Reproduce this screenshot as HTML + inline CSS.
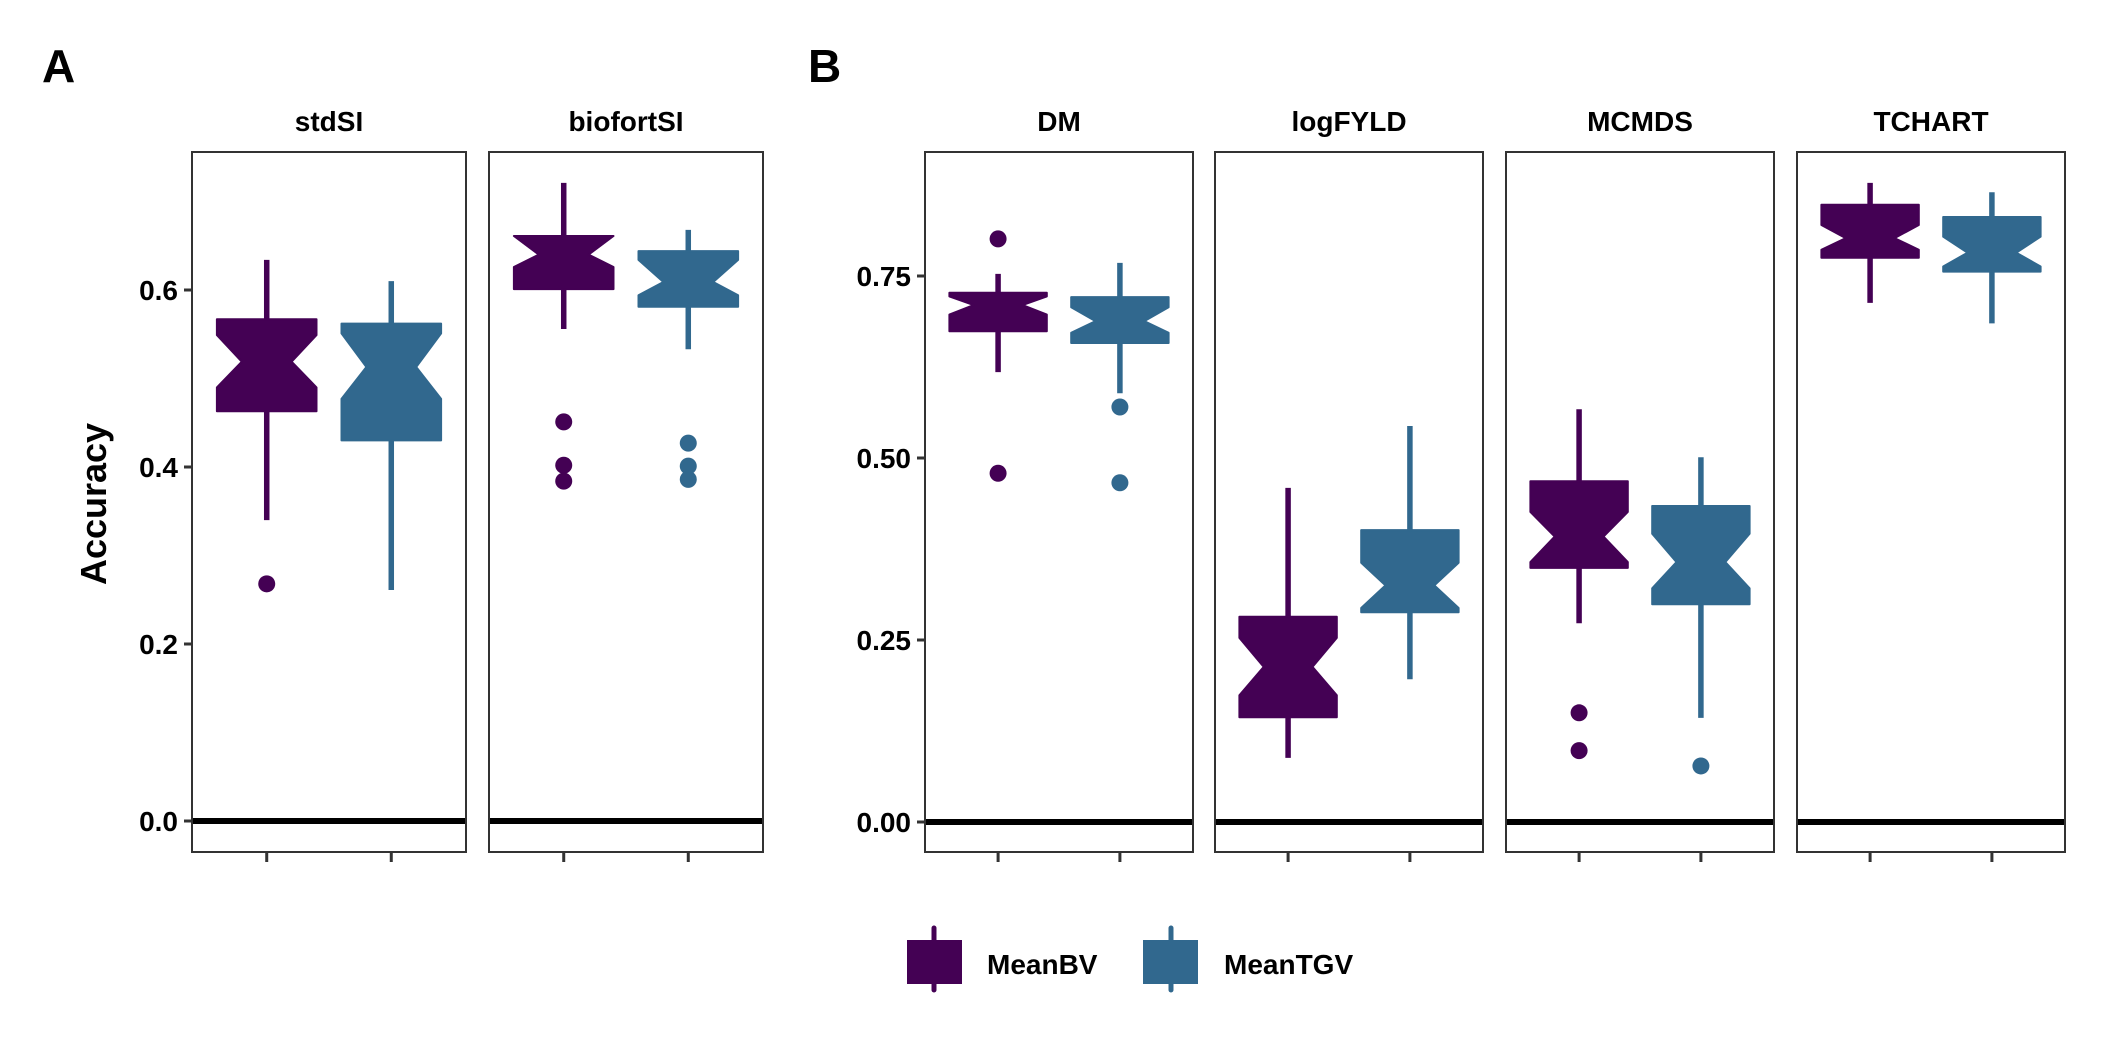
<!DOCTYPE html>
<html><head><meta charset="utf-8"><style>
html,body{margin:0;padding:0;background:#fff}
svg{display:block;font-family:"Liberation Sans",sans-serif;font-weight:bold}
</style></head><body>
<svg id="chart" width="2102" height="1051" viewBox="0 0 2102 1051">
<text x="42" y="82" font-size="46">A</text>
<text x="808" y="82" font-size="46">B</text>
<text transform="translate(106,504) rotate(-90)" text-anchor="middle" font-size="36">Accuracy</text>
<g id="panels"></g>
<g>
  <line x1="934" y1="928" x2="934" y2="990" stroke="#440154" stroke-width="5" stroke-linecap="round"/>
  <rect x="907" y="940" width="55" height="44" fill="#440154"/>
  <text x="987" y="974" font-size="28">MeanBV</text>
  <line x1="1171" y1="928" x2="1171" y2="990" stroke="#31688E" stroke-width="5" stroke-linecap="round"/>
  <rect x="1143" y="940" width="55" height="44" fill="#31688E"/>
  <text x="1224" y="974" font-size="28">MeanTGV</text>
</g>
</svg>
<script>
// facets
const facetNames = ["stdSI","biofortSI","DM","logFYLD","MCMDS","TCHART"];
const seriesNames = ["MeanBV","MeanTGV"];
// per facet: [BV, TGV]
const whiskerLow = [[0.34,0.261],[0.556,0.533],[0.618,0.589],[0.088,0.196],[0.273,0.143],[0.713,0.685]];
const q1 = [[0.463,0.430],[0.601,0.581],[0.674,0.658],[0.144,0.288],[0.349,0.299],[0.775,0.756]];
const notchLow = [[0.490,0.477],[0.626,0.594],[0.697,0.672],[0.174,0.294],[0.357,0.321],[0.786,0.763]];
const medians = [[0.519,0.513],[0.640,0.609],[0.710,0.688],[0.213,0.325],[0.392,0.357],[0.802,0.782]];
const notchHigh = [[0.549,0.551],[0.661,0.634],[0.722,0.707],[0.253,0.356],[0.426,0.396],[0.820,0.804]];
const q3 = [[0.567,0.562],[0.661,0.644],[0.727,0.721],[0.282,0.401],[0.468,0.434],[0.848,0.831]];
const whiskerHigh = [[0.634,0.610],[0.721,0.668],[0.753,0.768],[0.459,0.544],[0.567,0.501],[0.878,0.865]];
const outliers = [[[0.268],[]],[[0.451,0.402,0.384],[0.427,0.401,0.386]],[[0.801,0.479],[0.570,0.466]],[[],[]],[[0.150,0.098],[0.077]],[[],[]]];
const ticksA = [0.0,0.2,0.4,0.6];
const tickLabelsA = ["0.0","0.2","0.4","0.6"];
const ticksB = [0.00,0.25,0.50,0.75];
const tickLabelsB = ["0.00","0.25","0.50","0.75"];

const colors = ["#440154","#31688E"];
const panelX = [192,489,925,1215,1506,1797];
const panelWs = [274,274,268,268,268,268];
const topY = 152, bottomY = 852;
function yA(v){return 821 - v*885;}
function yB(v){return 822 - v*728;}
function xPos(p, k){return panelX[p] + (k+0.6)*(panelWs[p]/2.2);}
const NS="http://www.w3.org/2000/svg";
const g=document.getElementById('panels');
function mk(tag, attrs, parent){const e=document.createElementNS(NS,tag);for(const k in attrs)e.setAttribute(k,attrs[k]);(parent||g).appendChild(e);return e;}

[[ticksA,tickLabelsA,yA,192,'a'],[ticksB,tickLabelsB,yB,925,'b']].forEach(([t,l,fy,px,n])=>{
  t.forEach((v,i)=>{
    const ln=mk('line',{x1:px-8,x2:px,y1:fy(v),y2:fy(v),stroke:'#333','stroke-width':3});
    
    
    const tx=mk('text',{x:px-14,y:fy(v)+10,'text-anchor':'end','font-size':28});
    tx.textContent=l[i];
    
    
  });
});

facetNames.forEach((name,p)=>{
  const fy = p<2 ? yA : yB;
  const pw = panelWs[p];
  const st=mk('text',{x:panelX[p]+pw/2,y:131,'text-anchor':'middle','font-size':28});
  st.textContent=name;
  
  
  const zl=mk('line',{x1:panelX[p],x2:panelX[p]+pw,y1:fy(0),y2:fy(0),stroke:'#000','stroke-width':6});
  
  
  for(let k=0;k<2;k++){
    const cx=xPos(p,k), hw=pw/2.2*0.4, c=colors[k];
    const tk=mk('line',{x1:cx,x2:cx,y1:bottomY,y2:bottomY+10,stroke:'#333','stroke-width':3});
    
    
    const wh=mk('line',{x1:cx,x2:cx,y1:fy(whiskerLow[p][k]),y2:fy(whiskerHigh[p][k]),stroke:c,'stroke-width':5.5});
    
    
    const L=cx-hw,R=cx+hw,Lm=cx-hw/2,Rm=cx+hw/2;
    const pts=[[L,q3[p][k]],[R,q3[p][k]],[R,notchHigh[p][k]],[Rm,medians[p][k]],[R,notchLow[p][k]],[R,q1[p][k]],[L,q1[p][k]],[L,notchLow[p][k]],[Lm,medians[p][k]],[L,notchHigh[p][k]]].map(a=>a[0].toFixed(1)+','+fy(a[1]).toFixed(1)).join(' ');
    const bx=mk('polygon',{points:pts,fill:c,stroke:c,'stroke-width':2,'stroke-linejoin':'round'});
    
    
    outliers[p][k].forEach(v=>{
      const o=mk('circle',{cx:cx,cy:fy(v),r:8.5,fill:c});
      
      
    });
  }
  const fr=mk('rect',{x:panelX[p],y:topY,width:pw,height:bottomY-topY,fill:'none',stroke:'#333','stroke-width':2});
  
  
});
</script>
</body></html>
